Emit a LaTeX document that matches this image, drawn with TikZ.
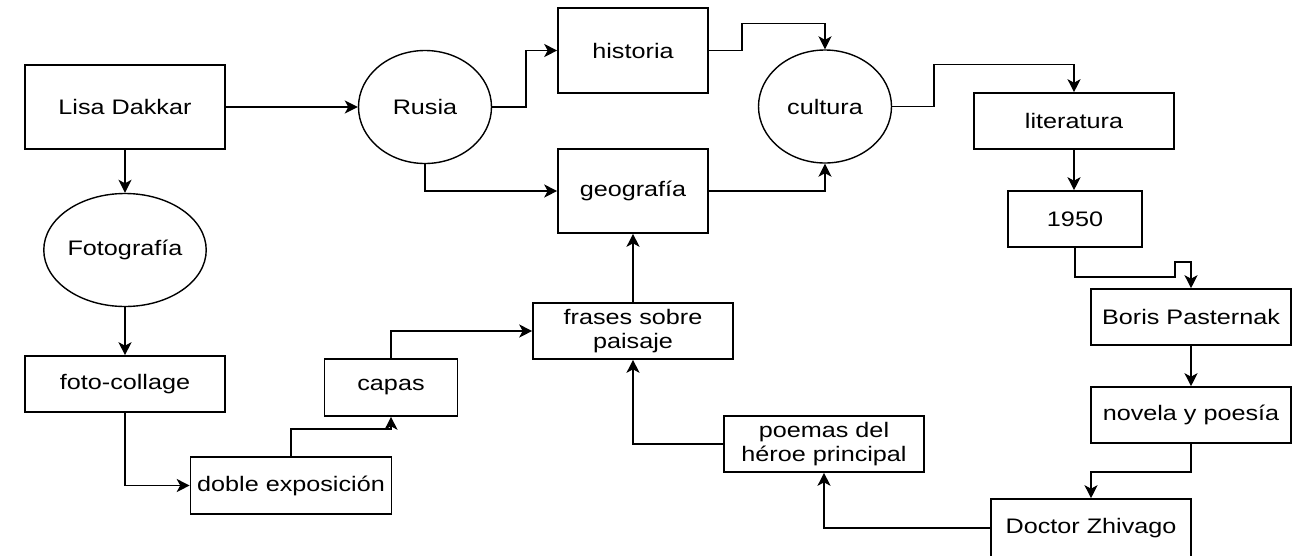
\documentclass[tikz,border=0pt]{standalone}
\usepackage{fontspec}
\setmainfont{Liberation Sans}[FakeStretch=1.2]
\usetikzlibrary{shapes.geometric,arrows.meta}
\begin{document}
\begin{tikzpicture}[x=1pt,y=-1pt,
  every node/.style={font=\fontsize{21}{24.5}\selectfont, align=center, inner sep=0pt},
  box/.style={draw, line width=1.6pt, rectangle, minimum height=56pt},
  oval/.style={draw, line width=1.4pt, ellipse, minimum width=133pt, minimum height=113pt},
  arr/.style={line width=1.6pt, -{Stealth[length=13pt,width=13pt,inset=3.5pt]}}]
\useasboundingbox (0,0) rectangle (1309,555);
\node[box, minimum width=200pt, minimum height=84pt] (lisa) at (125,107) {Lisa Dakkar};
\node[oval] (foto) at (125,250) {Fotografía};
\node[box, minimum width=200pt] (collage) at (125,384) {foto-collage};
\node[box, minimum width=201pt, minimum height=57pt] (doble) at (291,485.5) {doble exposición};
\node[box, minimum width=133pt, minimum height=57pt] (capas) at (391,387.5) {capas};
\node[oval] (rusia) at (425,107) {Rusia};
\node[box, minimum width=150pt, minimum height=85pt] (historia) at (633,50.5) {historia};
\node[box, minimum width=150pt, minimum height=84pt] (geo) at (633,191) {geografía};
\node[box, minimum width=200pt] (frases) at (633,331) {frases sobre\\paisaje};
\node[box, minimum width=200pt] (poemas) at (824,444) {poemas del\\héroe principal};
\node[oval] (cultura) at (825,106.5) {cultura};
\node[box, minimum width=200pt] (lit) at (1074,121) {literatura};
\node[box, minimum width=134pt] (y1950) at (1075,219) {1950};
\node[box, minimum width=200pt] (boris) at (1191,317) {Boris Pasternak};
\node[box, minimum width=200pt] (novela) at (1191,415) {novela y poesía};
\node[box, minimum width=200pt, minimum height=58pt] (doctor) at (1091,528) {Doctor Zhivago};

\draw[arr] (lisa) -- (rusia);
\draw[arr] (lisa) -- (foto);
\draw[arr] (foto) -- (collage);
\draw[arr] (collage.south) |- (doble.west);
\draw[arr] (doble.north) -- ++(0,-27) -| (capas.south);
\draw[arr] (capas.north) |- (frases.west);
\draw[arr] (frases) -- (geo);
\draw[arr] (rusia.east) -- ++(34,0) |- (historia.west);
\draw[arr] (rusia.south) |- (geo.west);
\draw[arr] (historia.east) -- ++(33,0) -- ++(0,-27) -| (cultura.north);
\draw[arr] (geo.east) -| (cultura.south);
\draw[arr] (cultura.east) -- ++(42,0) -- ++(0,-42) -| (lit.north);
\draw[arr] (lit) -- (lit.south |- y1950.north);
\draw[arr] (y1950.south) -- ++(0,29) -- ++(100,0) -- ++(0,-15) -| (boris.north);
\draw[arr] (boris) -- (novela);
\draw[arr] (novela.south) -- ++(0,28) -| (doctor.north);
\draw[arr] (doctor.west) -| (poemas.south);
\draw[arr] (poemas.west) -| (frases.south);
\end{tikzpicture}
\end{document}
